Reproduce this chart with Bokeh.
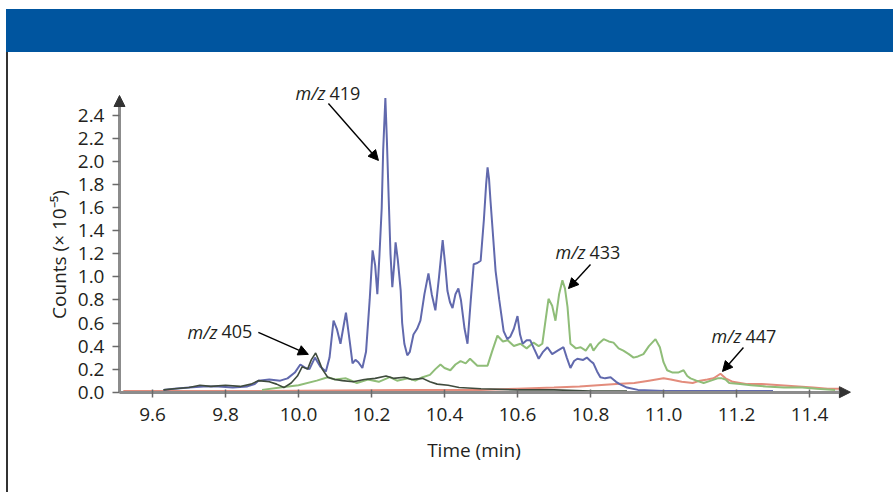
import math
from bokeh.plotting import figure
from bokeh.models import Div, Arrow, NormalHead, FixedTicker, ColumnDataSource
from bokeh.layouts import column, row
from bokeh.embed import file_html
from bokeh.resources import INLINE
from bokeh.core.properties import value

# ---------------- data ----------------
blue_x = [9.63, 9.66, 9.70, 9.74, 9.78, 9.82, 9.86, 9.88, 9.89, 9.92, 9.95, 9.97, 9.99,
          10.005, 10.02, 10.03, 10.045, 10.06, 10.075, 10.085, 10.096, 10.105, 10.115,
          10.125, 10.13, 10.14, 10.148, 10.156, 10.164, 10.175, 10.185, 10.195, 10.203,
          10.21, 10.216, 10.222, 10.228, 10.232, 10.238, 10.242, 10.247, 10.252, 10.257,
          10.262, 10.266, 10.272, 10.28, 10.284, 10.29, 10.298, 10.305, 10.315, 10.325,
          10.334, 10.345, 10.356, 10.365, 10.375, 10.385, 10.395, 10.402, 10.408, 10.415,
          10.422, 10.43, 10.438, 10.445, 10.455, 10.463, 10.472, 10.48, 10.49, 10.499,
          10.508, 10.514, 10.518, 10.522, 10.526, 10.532, 10.54, 10.55, 10.562, 10.572,
          10.58, 10.59, 10.60, 10.607, 10.614, 10.625, 10.635, 10.645, 10.658, 10.67,
          10.682, 10.695, 10.71, 10.726, 10.735, 10.745, 10.755, 10.764, 10.78, 10.79,
          10.80, 10.808, 10.818, 10.827, 10.84, 10.855, 10.87, 10.88, 10.90, 10.93,
          11.0, 11.1, 11.2, 11.3]
blue_y = [0.02, 0.03, 0.04, 0.05, 0.05, 0.04, 0.05, 0.07, 0.10, 0.11, 0.10, 0.12, 0.17,
          0.24, 0.21, 0.20, 0.30, 0.22, 0.18, 0.30, 0.62, 0.55, 0.42,
          0.60, 0.69, 0.45, 0.25, 0.28, 0.26, 0.21, 0.35, 0.80, 1.23,
          1.10, 0.85, 1.20, 1.60, 2.10, 2.55, 2.20, 1.69, 1.20, 0.91,
          1.10, 1.30, 1.15, 0.88, 0.60, 0.42, 0.32, 0.35, 0.50, 0.55,
          0.62, 0.85, 1.03, 0.85, 0.71, 1.00, 1.32, 1.10, 0.88, 0.78,
          0.73, 0.85, 0.90, 0.80, 0.55, 0.42, 0.80, 1.11, 1.12, 1.14,
          1.50, 1.80, 1.95, 1.85, 1.66, 1.40, 1.05, 0.80, 0.53, 0.46,
          0.48, 0.55, 0.66, 0.50, 0.42, 0.45, 0.45, 0.38, 0.29, 0.35,
          0.39, 0.33, 0.36, 0.39, 0.30, 0.21, 0.27, 0.29, 0.28, 0.30,
          0.27, 0.25, 0.18, 0.13, 0.12, 0.13, 0.09, 0.07, 0.04, 0.02,
          0.01, 0.01, 0.01, 0.01]

green_x = [9.90, 9.95, 10.0, 10.05, 10.08, 10.10, 10.13, 10.16, 10.19, 10.22, 10.25, 10.27,
           10.30, 10.32, 10.34, 10.36, 10.375, 10.389, 10.40, 10.416, 10.43, 10.444, 10.458,
           10.47, 10.48, 10.49, 10.505, 10.518, 10.53, 10.545, 10.56, 10.573, 10.59, 10.608,
           10.625, 10.644, 10.658, 10.668, 10.678, 10.685, 10.695, 10.704, 10.714, 10.723,
           10.73, 10.737, 10.745, 10.76, 10.773, 10.787, 10.80, 10.808, 10.822, 10.836,
           10.85, 10.863, 10.877, 10.89, 10.905, 10.918, 10.93, 10.945, 10.96, 10.978,
           10.99, 11.0, 11.01, 11.025, 11.04, 11.055, 11.065, 11.074, 11.09, 11.11, 11.13,
           11.148, 11.16, 11.17, 11.18, 11.21, 11.24, 11.28, 11.33, 11.38, 11.42, 11.47]
green_y = [0.02, 0.04, 0.06, 0.10, 0.13, 0.11, 0.12, 0.08, 0.11, 0.09, 0.13, 0.10,
           0.12, 0.10, 0.13, 0.15, 0.20, 0.24, 0.21, 0.19, 0.24, 0.27, 0.25,
           0.29, 0.26, 0.23, 0.23, 0.23, 0.35, 0.49, 0.44, 0.45, 0.40, 0.42,
           0.38, 0.43, 0.40, 0.42, 0.65, 0.81, 0.75, 0.62, 0.85, 0.97,
           0.90, 0.74, 0.42, 0.38, 0.39, 0.36, 0.42, 0.36, 0.42, 0.46,
           0.44, 0.43, 0.38, 0.36, 0.33, 0.30, 0.31, 0.33, 0.40, 0.46,
           0.39, 0.26, 0.19, 0.17, 0.17, 0.19, 0.14, 0.12, 0.10, 0.08, 0.10,
           0.12, 0.12, 0.11, 0.08, 0.07, 0.06, 0.05, 0.04, 0.04, 0.03, 0.02]

dark_x = [9.63, 9.66, 9.70, 9.73, 9.76, 9.80, 9.84, 9.87, 9.89, 9.92, 9.94, 9.96, 9.98,
          9.997, 10.01, 10.025, 10.035, 10.047, 10.055, 10.065, 10.08, 10.10, 10.12, 10.15,
          10.18, 10.21, 10.24, 10.26, 10.29, 10.31, 10.34, 10.36, 10.38, 10.41, 10.44,
          10.50, 10.60, 10.70, 10.80, 10.90]
dark_y = [0.02, 0.03, 0.04, 0.06, 0.05, 0.06, 0.05, 0.07, 0.10, 0.09, 0.07, 0.04, 0.08,
          0.14, 0.22, 0.20, 0.28, 0.34, 0.28, 0.20, 0.13, 0.11, 0.10, 0.09,
          0.11, 0.12, 0.14, 0.12, 0.13, 0.11, 0.12, 0.09, 0.07, 0.06, 0.04,
          0.03, 0.02, 0.02, 0.01, 0.01]

red_x = [9.52, 9.70, 9.90, 10.10, 10.30, 10.50, 10.60, 10.70, 10.77, 10.82, 10.87, 10.92,
         10.96, 11.0, 11.02, 11.05, 11.08, 11.10, 11.12, 11.137, 11.156, 11.17, 11.19,
         11.23, 11.27, 11.32, 11.37, 11.41, 11.45, 11.49]
red_y = [0.01, 0.01, 0.01, 0.015, 0.02, 0.02, 0.03, 0.04, 0.05, 0.06, 0.07, 0.08,
         0.10, 0.12, 0.11, 0.09, 0.08, 0.10, 0.11, 0.12, 0.16, 0.12, 0.09,
         0.07, 0.07, 0.06, 0.05, 0.04, 0.03, 0.03]

x_ticks = [9.6, 9.8, 10.0, 10.2, 10.4, 10.6, 10.8, 11.0, 11.2, 11.4]
x_tick_labels = ["9.6", "9.8", "10.0", "10.2", "10.4", "10.6", "10.8", "11.0", "11.2", "11.4"]
y_ticks = [0.0, 0.2, 0.4, 0.6, 0.8, 1.0, 1.2, 1.4, 1.6, 1.8, 2.0, 2.2, 2.4]
y_tick_labels = ["0.0", "0.2", "0.4", "0.6", "0.8", "1.0", "1.2", "1.4", "1.6", "1.8", "2.0", "2.2", "2.4"]

x_title = "Time (min)"
y_title = "Counts (\u00d7 10\u207b\u2075)"

# annotations: label prefix, number, text anchor (x, y), arrow start, arrow end
ann_prefix = ["m/z", "m/z", "m/z", "m/z"]
ann_number = ["419", "405", "433", "447"]
ann_x = [10.0795, 9.7836, 10.7918, 11.219]
ann_y = [2.591, 0.526, 1.212, 0.483]
arr_x0 = [10.082, 9.890, 10.800, 11.219]
arr_y0 = [2.504, 0.519, 1.108, 0.388]
arr_x1 = [10.219, 10.027, 10.7397, 11.1616]
arr_y1 = [2.010, 0.328, 0.899, 0.180]

# ---------------- figure ----------------
FONT = "Open Sans"
X0, X1 = 9.2055, 11.6301          # full canvas span
Y0, Y1 = -0.870, 2.946
AXIS_X, AXIS_Y = 9.5096, 0.0       # where the two axes cross
X_TIP, Y_TIP = 11.512, 2.573       # arrow tips of the axes

p = figure(width=885, height=440, output_backend="svg", toolbar_location=None,
           x_range=(X0, X1), y_range=(Y0, Y1),
           min_border_left=0, min_border_right=0, min_border_top=0, min_border_bottom=0,
           margin=(0, 0, 0, 0))
p.outline_line_color = None
p.grid.visible = False
p.background_fill_color = "white"
p.border_fill_color = "white"

for ax in (p.xaxis[0], p.yaxis[0]):
    ax.axis_line_color = "#8c8c8c"
    ax.axis_line_width = 3
    ax.major_tick_line_color = "#6a6a6a"
    ax.major_tick_line_width = 1.5
    ax.minor_tick_line_color = None
    ax.major_label_text_font = FONT
    ax.major_label_text_font_size = "19px"
    ax.major_label_text_color = "#231f20"

xa = p.xaxis[0]
xa.fixed_location = AXIS_Y
xa.ticker = FixedTicker(ticks=x_ticks)
xa.major_label_overrides = {t: l for t, l in zip(x_ticks, x_tick_labels)}
xa.major_tick_in = 3
xa.major_tick_out = 5
xa.major_label_standoff = 11
xa.bounds = (AXIS_X, 11.49)

ya = p.yaxis[0]
ya.fixed_location = AXIS_X
ya.ticker = FixedTicker(ticks=y_ticks)
ya.major_label_overrides = {t: l for t, l in zip(y_ticks, y_tick_labels)}
ya.major_tick_in = 0
ya.major_tick_out = 7
ya.major_label_standoff = 8
ya.bounds = (AXIS_Y, 2.55)

# axis arrow heads
p.add_layout(Arrow(end=NormalHead(size=11, fill_color="#333333", line_color="#333333"),
                   x_start=AXIS_X, y_start=2.50, x_end=AXIS_X, y_end=Y_TIP,
                   line_color="#8c8c8c", line_width=3))
p.add_layout(Arrow(end=NormalHead(size=11, fill_color="#333333", line_color="#333333"),
                   x_start=11.47, y_start=AXIS_Y, x_end=X_TIP, y_end=AXIS_Y,
                   line_color="#8c8c8c", line_width=3))

# axis titles
p.text(x=[9.3452], y=[1.194], text=[y_title], angle=math.pi / 2,
       text_font=value(FONT), text_font_size="19px", text_align="center",
       text_baseline="middle", text_color="#231f20")
p.text(x=[10.4808], y=[-0.5056], text=[x_title],
       text_font=value(FONT), text_font_size="19px", text_align="center",
       text_baseline="middle", text_color="#231f20")

# series
p.line(red_x, red_y, line_color="#e0806e", line_width=2, line_alpha=0.9)
p.line(green_x, green_y, line_color="#8fbd78", line_width=2)
p.line(blue_x, blue_y, line_color="#6169ad", line_width=2)
p.line(dark_x, dark_y, line_color="#3f4b3d", line_width=1.6)

# annotations
src = ColumnDataSource(dict(x=ann_x, y=ann_y, pre=ann_prefix, num=ann_number))
p.text(x="x", y="y", text="pre", source=src, text_font=value(FONT), text_font_size="18px",
       text_font_style="italic", text_align="right", text_baseline="middle",
       text_color="#231f20", x_offset=-2)
p.text(x="x", y="y", text="num", source=src, text_font=value(FONT), text_font_size="18px",
       text_align="left", text_baseline="middle", text_color="#231f20", x_offset=2)
for i in range(len(arr_x0)):
    p.add_layout(Arrow(end=NormalHead(size=10, fill_color="black", line_color="black"),
                       x_start=arr_x0[i], y_start=arr_y0[i], x_end=arr_x1[i], y_end=arr_y1[i],
                       line_color="black", line_width=1.4))

header = Div(width=887, height=43, margin=(9, 0, 0, 6), styles={"background-color": "#00559f"})
border = Div(width=2, height=440, margin=(0, 0, 0, 6), styles={"background-color": "#333333"})
layout = column(header, row(border, p, spacing=0), spacing=0)

open("out.html", "w").write(file_html(layout, INLINE))
